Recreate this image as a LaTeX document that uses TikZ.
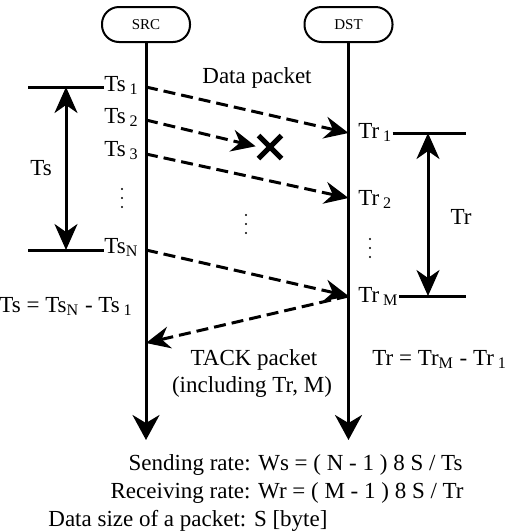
\documentclass[tikz,border=0pt]{standalone}
\usepackage{fontspec}
\setmainfont{Liberation Serif}
\usetikzlibrary{arrows.meta,shapes.misc}

\begin{document}
\begin{tikzpicture}[x=0.5pt,y=-0.5pt,inner sep=0pt,
  font=\fontsize{11.5}{13}\selectfont,
  host/.style={draw,line width=1pt,rounded corners=8.5pt,minimum width=44pt,minimum height=17.5pt,font=\fontsize{7.5}{9}\selectfont},
  life/.style={line width=1.5pt,-{Stealth[length=12.5pt,width=13.5pt,inset=4pt]}},
  pkt/.style={line width=1.5pt,dash pattern=on 6pt off 3pt,-{Stealth[length=12pt,width=11pt,inset=4pt]}},
  span/.style={line width=1.5pt,{Stealth[length=13pt,width=11.5pt,inset=4pt]}-{Stealth[length=13pt,width=11.5pt,inset=4pt]}},
  tick/.style={line width=1.5pt},
  tag/.style={anchor=base west}]
\useasboundingbox (0,0) rectangle (505,531);

% hosts and time lines
\node[host] (src) at (146,24.5) {SRC};
\node[host] (dst) at (348.5,24.5) {DST};
\coordinate (srcend) at (146,440);
\coordinate (dstend) at (348.5,440);
\draw[life] (src) -- (srcend);
\draw[life] (dst) -- (dstend);

% instants on the time lines
\coordinate (s1) at (146,87);
\coordinate (s2) at (146,120);
\coordinate (s3) at (146,154);
\coordinate (sN) at (146,250);
\coordinate (sA) at (146,343);
\coordinate (r1) at (348.5,133);
\coordinate (r2) at (348.5,198);
\coordinate (rM) at (348.5,296);

\node[tag] (ts1) at (104,91) {Ts\,\textsubscript{1}};
\node[tag] (ts2) at (104,123) {Ts\,\textsubscript{2}};
\node[tag] (ts3) at (104,156) {Ts\,\textsubscript{3}};
\node[tag] (tsN) at (104,253) {Ts\textsubscript{N}};
\node[tag] (tr1) at (358,138) {Tr\,\textsubscript{1}};
\node[tag] (tr2) at (358,205) {Tr\,\textsubscript{2}};
\node[tag] (trM) at (358,302) {Tr\,\textsubscript{M}};

% omitted packets
\foreach \x/\y in {122/198, 246/224, 370/248}
  \foreach \d in {-9,0,9}
    \fill (\x,\y+\d) circle (1.1);

% packets
\node[anchor=base] (data) at (257,83) {Data packet};
\node[cross out,draw,line width=2.5pt,minimum size=9pt] (lost) at (270,147) {};
\draw[pkt] (s1) -- (r1);
\draw[pkt,shorten >=1.5pt] (s2) -- (lost.west);
\draw[pkt] (s3) -- (r2);
\draw[pkt] (sN) -- (rM);
\draw[pkt] (rM) -- (sA);
\node[anchor=base] (tack) at (254,365) {TACK packet};
\node[anchor=base] (incl) at (252,392) {(including Tr, M)};

% sending interval
\coordinate (la) at (28,87);
\coordinate (lb) at (28,250);
\coordinate (ta) at (66,87);
\coordinate (tb) at (66,250);
\draw[tick] (la) -- (la -| ts1.west);
\draw[tick] (lb) -- (lb -| tsN.west);
\draw[span] (ta) -- (tb);
\node (ts) at (41,168) {Ts};
\node[tag] (tseq) at (-1,312) {Ts = Ts\textsubscript{N} - Ts\,\textsubscript{1}};

% receiving interval
\coordinate (ra) at (466,133);
\coordinate (rb) at (466,296);
\coordinate (ua) at (428,133);
\coordinate (ub) at (428,296);
\draw[tick] (ra -| tr1.east) -- (ra);
\draw[tick] (rb -| trM.east) -- (rb);
\draw[span] (ua) -- (ub);
\node (tr) at (461,217) {Tr};
\node[tag] (treq) at (372,365) {Tr = Tr\textsubscript{M} - Tr\,\textsubscript{1}};

% rates
\node[anchor=base east] (send) at (463,470) {Sending rate: Ws = ( N - 1 ) 8 S / Ts};
\node[anchor=base east] (recv) at (464,498) {Receiving rate: Wr = ( M - 1 ) 8 S / Tr};
\node[tag] (size) at (48,526) {Data size of a packet: S [byte]};
\end{tikzpicture}
\end{document}
